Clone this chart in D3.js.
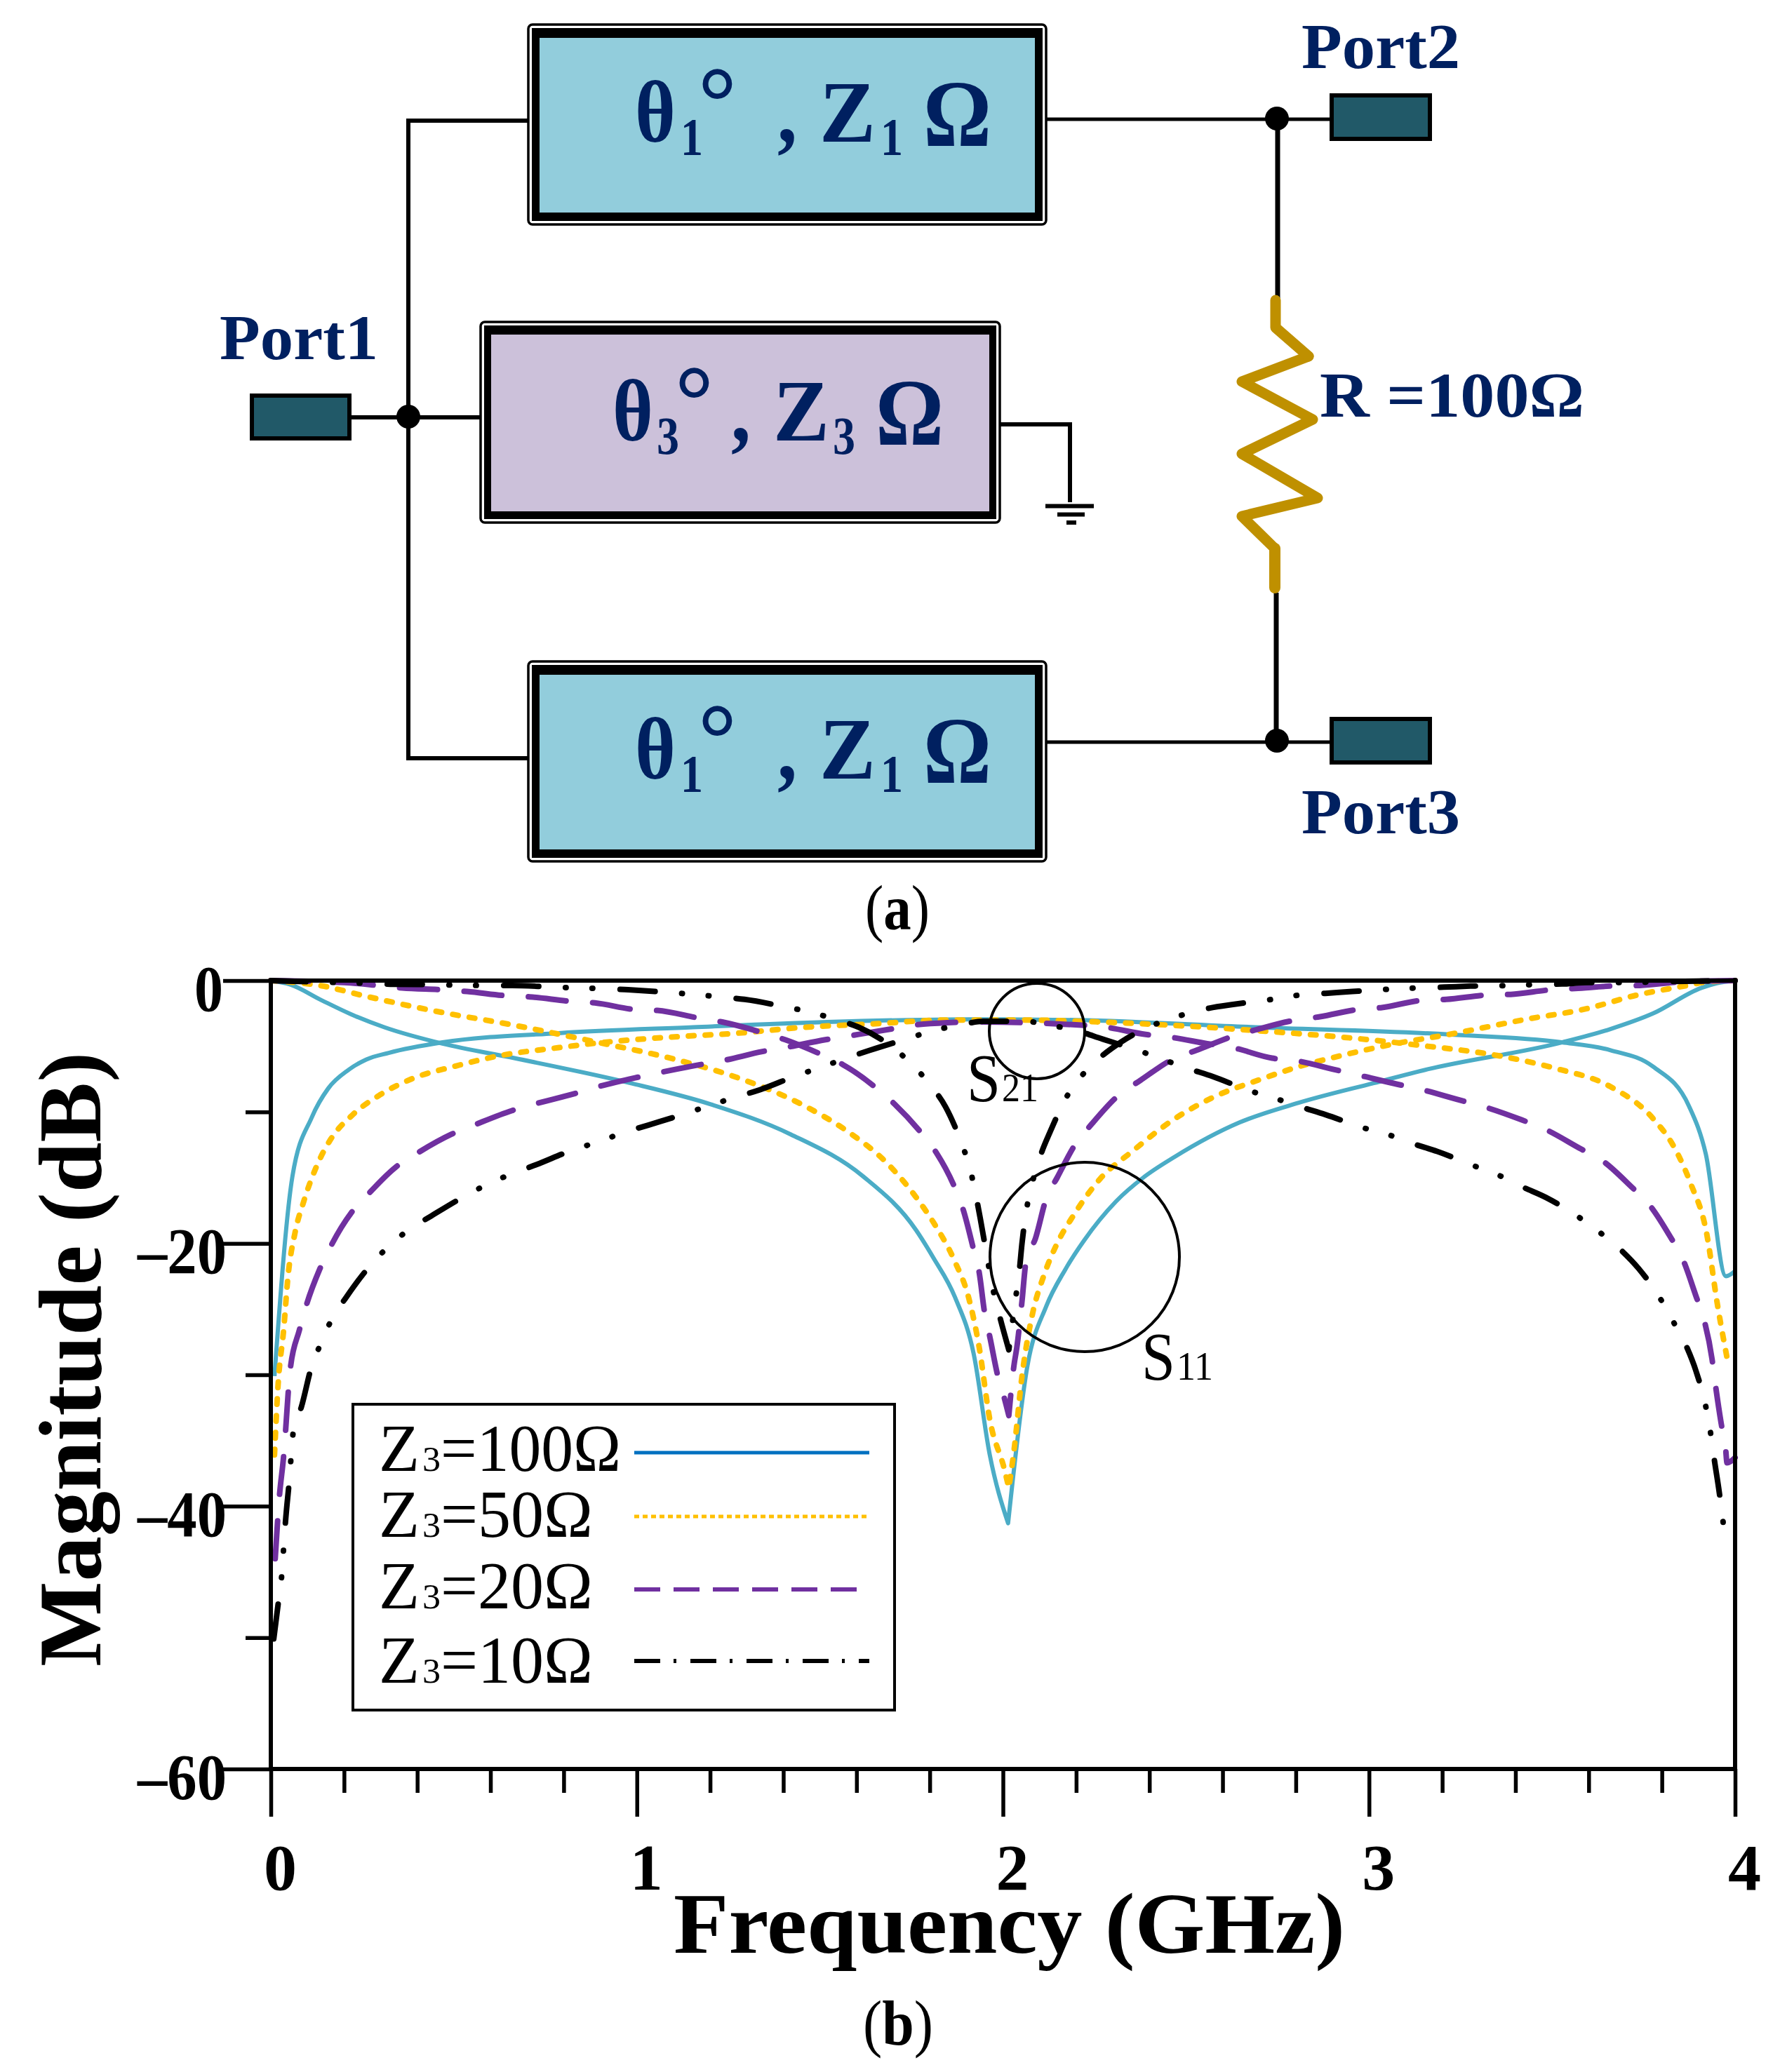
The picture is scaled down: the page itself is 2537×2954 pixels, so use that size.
<!DOCTYPE html>
<html><head><meta charset="utf-8">
<script src="https://cdn.jsdelivr.net/npm/d3@7"></script>
<style>html,body{margin:0;background:#fff}svg{display:block}</style></head>
<body><svg id="c" width="2537" height="2954"></svg>
<script>
// ---- data (frequency GHz, magnitude dB) ----
const s21Z100=[[0.01,-30.1],[0.059,-14.9],[0.112,-10.4],[0.157,-8.2],[0.212,-6.8],[0.261,-6],[0.322,-5.5],[0.469,-4.7],[0.787,-4],[1.153,-3.55],[1.52,-3.15],[1.848,-2.96],[2,-2.95],[2.2,-3],[2.69,-3.55],[3.218,-4.1],[3.527,-4.7],[3.66,-5.3],[3.776,-6.55],[3.874,-9.55],[3.92,-13.2],[3.975,-22.5],[4,-22.1]];
const s11Z100=[[0,0],[0.053,-0.3],[0.139,-1.5],[0.218,-2.55],[0.31,-3.55],[0.469,-4.8],[0.665,-5.9],[0.982,-7.8],[1.2,-9.4],[1.42,-11.7],[1.618,-14.9],[1.763,-19],[1.81,-21.1],[1.869,-24.1],[1.92,-28.4],[1.964,-36.1],[2.014,-41.3],[2.067,-29.3],[2.118,-24.8],[2.17,-22],[2.221,-19.8],[2.309,-16.8],[2.383,-15],[2.47,-13.4],[2.646,-10.8],[2.808,-9.3],[3.013,-7.8],[3.16,-6.75],[3.527,-4.7],[3.658,-3.7],[3.776,-2.5],[3.908,-0.55],[3.95,-0.2],[4,0]];
const s21Z50=[[0.01,-36.1],[0.02,-30.7],[0.035,-26.6],[0.047,-22.5],[0.066,-19.2],[0.09,-16.8],[0.127,-14],[0.163,-12.1],[0.224,-10.2],[0.298,-8.7],[0.383,-7.5],[0.505,-6.5],[0.628,-5.7],[0.787,-5.1],[0.909,-4.7],[1.092,-4.3],[1.276,-4],[1.459,-3.55],[1.642,-3.3],[1.848,-3],[2.05,-3],[2.265,-3.15],[2.69,-3.8],[3,-4.5],[3.13,-4.9],[3.35,-5.7],[3.512,-6.7],[3.658,-8.05],[3.776,-10.5],[3.834,-12.7],[3.878,-15.4],[3.922,-19.2],[3.952,-24.7],[3.98,-29]];
const s11Z50=[[0,0],[0.139,-0.4],[0.261,-1.2],[0.445,-2.3],[0.665,-3.4],[0.885,-4.65],[1.105,-6],[1.276,-7.4],[1.459,-9.55],[1.582,-11.6],[1.68,-13.8],[1.763,-16.5],[1.81,-18.4],[1.869,-21.4],[1.906,-24.1],[1.935,-27.9],[1.964,-33.4],[2.004,-37.2],[2.016,-38.6],[2.03,-35.8],[2.052,-30.1],[2.082,-25.2],[2.111,-22.5],[2.148,-20],[2.192,-17.9],[2.265,-15.1],[2.353,-13],[2.47,-10.5],[2.573,-8.9],[2.705,-7.5],[2.808,-6.55],[2.925,-5.7],[3.072,-4.8],[3.218,-4.1],[3.438,-2.9],[3.585,-2.2],[3.732,-1.1],[3.864,-0.4],[3.923,-0.1],[4,0]];
const s21Z20=[[0.012,-44],[0.023,-39.4],[0.035,-36.2],[0.053,-29.6],[0.078,-26.6],[0.096,-24.8],[0.133,-22],[0.164,-20.2],[0.219,-17.7],[0.261,-16.4],[0.341,-14.2],[0.402,-13.1],[0.493,-11.7],[0.555,-11],[0.658,-9.9],[0.72,-9.4],[0.83,-8.6],[0.891,-8.1],[0.995,-7.4],[1.062,-7],[1.172,-6.4],[1.233,-6.1],[1.343,-5.4],[1.405,-5.1],[1.515,-4.5],[1.582,-4.2],[1.692,-3.7],[1.754,-3.4],[1.848,-3.2],[1.928,-3.15],[2.19,-3.35],[2.28,-3.55],[2.39,-4.1],[2.456,-4.3],[2.558,-4.8],[2.627,-5.1],[2.735,-5.9],[2.8,-6.1],[2.91,-6.8],[2.972,-7.2],[3.079,-7.9],[3.145,-8.3],[3.248,-9.1],[3.314,-9.6],[3.417,-10.6],[3.48,-11.3],[3.578,-12.8],[3.637,-13.7],[3.717,-15.7],[3.764,-17],[3.823,-19.5],[3.857,-21.2],[3.893,-24],[3.915,-25.8],[3.937,-28.8],[3.945,-30.5],[3.962,-33.7],[3.974,-35.6],[3.978,-36.7],[4,-36.3]];
const s11Z20=[[0,0],[0.2,-0.15],[0.292,-0.37],[0.359,-0.56],[0.469,-0.7],[0.536,-0.83],[0.646,-1.16],[0.707,-1.24],[0.817,-1.57],[0.885,-1.7],[0.995,-2.2],[1.056,-2.27],[1.172,-2.87],[1.233,-3.15],[1.343,-3.96],[1.405,-4.5],[1.502,-5.6],[1.563,-6.4],[1.655,-8.2],[1.704,-9.4],[1.777,-11.6],[1.818,-13.1],[1.869,-15.8],[1.891,-17.4],[1.92,-20.5],[1.935,-22.2],[1.95,-25.3],[1.964,-27.1],[1.986,-30.1],[2.004,-31.8],[2.016,-33.1],[2.03,-29.3],[2.038,-27.9],[2.052,-24.4],[2.063,-21.4],[2.089,-19.6],[2.118,-16.6],[2.148,-15],[2.199,-12.4],[2.243,-10.9],[2.317,-8.7],[2.375,-7.6],[2.463,-6],[2.529,-5.3],[2.632,-4.2],[2.69,-3.75],[2.8,-3],[2.866,-2.75],[2.969,-2.2],[3.035,-2.05],[3.145,-1.5],[3.211,-1.43],[3.321,-1.1],[3.387,-1.05],[3.497,-0.7],[3.563,-0.6],[3.673,-0.4],[3.74,-0.37],[3.85,-0.1],[4,0]];
const s21Z10=[[0.008,-50.1],[0.022,-47],[0.03,-45.2],[0.035,-43.2],[0.04,-41.2],[0.05,-38.2],[0.062,-34.2],[0.084,-32.4],[0.111,-29.4],[0.137,-27.6],[0.166,-25.8],[0.206,-24.1],[0.271,-21.7],[0.319,-20.3],[0.375,-19],[0.439,-17.9],[0.53,-16.4],[0.592,-15.5],[0.659,-14.7],[0.726,-14],[0.824,-12.9],[0.891,-12.3],[0.961,-11.6],[1.031,-11],[1.135,-10.1],[1.199,-9.5],[1.267,-8.9],[1.337,-8.3],[1.439,-7.2],[1.503,-6.6],[1.572,-5.9],[1.637,-5.3],[1.741,-4.4],[1.81,-3.8],[1.88,-3.4],[1.947,-3.1],[2.06,-3.1],[2.129,-3.4],[2.2,-3.8],[2.272,-4.45],[2.368,-5.3],[2.437,-6],[2.507,-6.7],[2.573,-7.3],[2.676,-8.4],[2.742,-8.95],[2.812,-9.6],[2.881,-10.2],[2.984,-11.2],[3.05,-11.7],[3.119,-12.4],[3.186,-13],[3.287,-14.1],[3.353,-14.8],[3.419,-15.7],[3.483,-16.5],[3.578,-18.1],[3.632,-19.2],[3.688,-20.5],[3.736,-21.9],[3.8,-24.4],[3.834,-26.1],[3.868,-27.9],[3.893,-29.7],[3.922,-32.7],[3.934,-34.6],[3.944,-36.6],[3.955,-38.6],[3.969,-41.6]];
const s11Z10=[[0,0],[0.185,-0.15],[0.259,-0.2],[0.335,-0.28],[0.439,-0.3],[0.508,-0.34],[0.581,-0.37],[0.659,-0.37],[0.763,-0.48],[0.832,-0.56],[0.905,-0.6],[0.976,-0.7],[1.086,-0.9],[1.153,-1.05],[1.227,-1.24],[1.294,-1.43],[1.405,-2],[1.474,-2.4],[1.543,-2.96],[1.606,-3.55],[1.704,-5.2],[1.756,-6.5],[1.803,-8],[1.843,-9.6],[1.887,-12.4],[1.909,-14.2],[1.925,-16.2],[1.938,-18.1],[1.957,-21.1],[1.969,-23],[1.986,-25],[2.016,-28.1],[2.026,-26],[2.035,-24.1],[2.045,-22],[2.052,-20],[2.067,-17],[2.082,-15.2],[2.104,-13.2],[2.129,-11.5],[2.177,-8.7],[2.218,-7.15],[2.272,-5.7],[2.324,-4.65],[2.427,-3.2],[2.492,-2.6],[2.563,-2.1],[2.632,-1.8],[2.742,-1.4],[2.811,-1.1],[2.881,-0.97],[2.954,-0.83],[3.064,-0.64],[3.13,-0.56],[3.204,-0.5],[3.277,-0.42],[3.387,-0.37],[3.453,-0.3],[3.527,-0.26],[3.6,-0.15],[3.71,-0.15],[3.776,-0.1],[4,0]];
const xMajorTicks=[0,1,2,3,4];
const xMinorTicks=[0.2,0.4,0.6,0.8,1.2,1.4,1.6,1.8,2.2,2.4,2.6,2.8,3.2,3.4,3.6,3.8];
const yMajorTicks=[0,-20,-40,-60];
const yMinorTicks=[-10,-30,-50];
const legendValues=["100","50","20","10"];

// ---- layout ----
const svg=d3.select("#c");
const L=386,R=2473,T=1398,B=2522;
const x=d3.scaleLinear().domain([0,4]).range([L,R]);
const y=d3.scaleLinear().domain([0,-60]).range([T,B]);
const SERIF='"Liberation Serif","DejaVu Serif",serif';
const NAVY="#002060";
function txt(s,px,py,size,o={}){
  const t=svg.append("text").attr("x",px).attr("y",py).attr("font-family",SERIF).attr("font-size",size)
    .attr("font-weight",o.bold?"bold":"normal").attr("fill",o.fill||"#000").text(s);
  if(o.len){t.attr("textLength",o.len).attr("lengthAdjust","spacingAndGlyphs");}
  if(o.anchor)t.attr("text-anchor",o.anchor);
  if(o.rot)t.attr("transform",`rotate(${o.rot} ${px} ${py})`);
  return t;
}
function path(pts,stroke,w,o={}){
  return svg.append("path").attr("d",d3.line()(pts)).attr("fill",o.fill||"none").attr("stroke",stroke)
    .attr("stroke-width",w).attr("stroke-linejoin",o.join||"miter").attr("stroke-linecap",o.cap||"butt");
}
// ---- circuit ----
function box(xo,yo,w,h,bw,fill){
  svg.append("rect").attr("x",xo).attr("y",yo).attr("width",w).attr("height",h).attr("rx",6)
    .attr("fill","#fff").attr("stroke","#000").attr("stroke-width",3.5);
  svg.append("rect").attr("x",xo+5).attr("y",yo+5).attr("width",w-10).attr("height",h-10).attr("fill","#000");
  svg.append("rect").attr("x",xo+5+bw).attr("y",yo+5+bw+3).attr("width",w-10-2*bw).attr("height",h-10-2*bw-4).attr("fill",fill);
}
function port(x0,y0,x1,y1){
  svg.append("rect").attr("x",x0+3).attr("y",y0+3).attr("width",x1-x0-6).attr("height",y1-y0-6)
   .attr("fill","#215968").attr("stroke","#000").attr("stroke-width",6);
}
path([[755,172],[582,172],[582,1081],[755,1081]],"#000",6);
path([[500,595],[690,595]],"#000",6);
path([[1488,170],[1895,170]],"#000",5);
path([[1488,1058],[1895,1058]],"#000",5);
path([[1821,170],[1821,425]],"#000",7);
path([[1819,845],[1819,1058]],"#000",7);
path([[1422,605],[1525,605],[1525,716]],"#000",6);
path([[1490,721.5],[1559,721.5]],"#000",6);
path([[1507,733.5],[1546,733.5]],"#000",6);
path([[1520,745],[1534,745]],"#000",6);
[[582,594],[1820,169],[1820,1056]].forEach(p=>svg.append("circle").attr("cx",p[0]).attr("cy",p[1]).attr("r",17).attr("fill","#000"));
box(753,35,738,285,11,"#92cddc");
box(685,459,740,286,10,"#ccc1da");
box(753,943,738,285,11,"#92cddc");
port(356,561,501,628);
port(1895,133,2041,201);
port(1895,1022,2041,1090);
path([[1865,508],[1770,544],[1871,598],[1770,647],[1878,710],[1770,736],[1817,782]],"#bf9000",15,{join:"round",cap:"round"});
path([[1818,428],[1818,467],[1865,508]],"#bf9000",15,{join:"round",cap:"round"});
path([[1817,782],[1817,838]],"#bf9000",16,{cap:"round"});
function boxLabel(dy,sub,thetaX,subX,degX,commaX,zX,subZX,omX){
  const base=201.5+dy;
  txt("θ",thetaX,base,124,{bold:true,fill:NAVY,len:58});
  txt(sub,subX,base+19,77,{bold:true,fill:NAVY,len:32});
  txt("°",degX,base-10,140,{bold:true,fill:NAVY,len:55});
  txt(",",commaX,base,124,{bold:true,fill:NAVY,len:28});
  txt("Z",zX,base,124,{bold:true,fill:NAVY,len:80});
  txt(sub,subZX,base+19,77,{bold:true,fill:NAVY,len:32});
  txt("Ω",omX,base+6,135,{bold:true,fill:NAVY,len:97});
}
boxLabel(0,"1",905,970,995,1108,1168,1255,1316);
boxLabel(426,"3",873,936,962,1042,1102,1187,1248);
boxLabel(908,"1",905,970,995,1108,1168,1255,1316);
txt("Port1",313,512,92,{bold:true,fill:NAVY,len:226});
txt("Port2",1855,97,92,{bold:true,fill:NAVY,len:226});
txt("Port3",1855,1188,92,{bold:true,fill:NAVY,len:226});
txt("R =100Ω",1881,594,90,{bold:true,fill:NAVY,len:377});
const capA=txt("",1233,1325,90,{len:92});
capA.append("tspan").text("(");capA.append("tspan").attr("font-weight","bold").text("a");capA.append("tspan").text(")");

// ---- chart ----
const line=d3.line().x(d=>x(d[0])).y(d=>y(d[1])).curve(d3.curveMonotoneX);
// a notch keeps its sharp tip: the curve is smoothed on each side of the minimum, one continuous path
function curvePath(data,notch){
  if(!notch) return line(data);
  const i=d3.minIndex(data,d=>d[1]);
  return line(data.slice(0,i+1))+line(data.slice(i)).replace(/^M[^C]*/,"");
}
const styles={
 teal:{c:"#4bacc6",w:6,d:null,cap:"butt"},
 orange:{c:"#ffc000",w:8,d:"8 16",cap:"round"},
 purple:{c:"#7030a0",w:8,d:"54 38",cap:"round"},
 black:{c:"#000",w:8,d:"50 38 1 37 1 39",cap:"round"}
};
[[s21Z100,"teal",0],[s11Z100,"teal",1],[s21Z50,"orange",0],[s11Z50,"orange",1],[s21Z20,"purple",0],[s11Z20,"purple",1],[s21Z10,"black",0],[s11Z10,"black",1]].forEach(([data,k,notch])=>{
  const s=styles[k];
  svg.append("path").attr("d",curvePath(data,notch)).attr("fill","none").attr("stroke",s.c).attr("stroke-width",s.w)
    .attr("stroke-dasharray",s.d).attr("stroke-linecap",s.cap).attr("stroke-linejoin","round");
});
// annotations
svg.append("circle").attr("cx",1478).attr("cy",1470).attr("r",68).attr("fill","none").attr("stroke","#000").attr("stroke-width",4);
svg.append("circle").attr("cx",1546).attr("cy",1792).attr("r",135).attr("fill","none").attr("stroke","#000").attr("stroke-width",4);
txt("S",1378,1570,98,{len:48});txt("21",1428,1570,56,{len:52});
txt("S",1627,1967,98,{len:48});txt("11",1677,1967,56,{len:52});
// frame and axes
svg.append("rect").attr("x",L).attr("y",T).attr("width",R-L).attr("height",B-T).attr("fill","none").attr("stroke","#000").attr("stroke-width",6);
const gx=svg.append("g").attr("transform",`translate(0,${B})`);
const gy=svg.append("g").attr("transform",`translate(${L},0)`);
gx.append("g").call(d3.axisBottom(x).tickValues(xMinorTicks).tickSize(34).tickFormat(""));
gx.append("g").call(d3.axisBottom(x).tickValues(xMajorTicks).tickSize(68).tickFormat(d3.format("d")));
gy.append("g").call(d3.axisLeft(y).tickValues(yMinorTicks).tickSize(36).tickFormat(""));
gy.append("g").call(d3.axisLeft(y).tickValues(yMajorTicks).tickSize(68).tickFormat(d=>d===0?"0":"–"+Math.abs(d)));
svg.selectAll("g .domain").remove();
svg.selectAll("g .tick line").attr("stroke","#000").attr("stroke-width",5.5);
gx.selectAll("text").attr("font-family",SERIF).attr("font-weight","bold").attr("font-size",94).attr("fill","#000").attr("dy",0).attr("y",172).attr("x",13).attr("text-anchor","middle");
gy.selectAll("text").attr("font-family",SERIF).attr("font-weight","bold").attr("font-size",94).attr("fill","#000").attr("dy",0).attr("y",42).attr("text-anchor","start").attr("lengthAdjust","spacingAndGlyphs")
  .each(function(d){const t=d3.select(this); if(d===0){t.attr("x",-109).attr("textLength",41);} else {t.attr("x",-190).attr("textLength",127);}});
txt("Frequency (GHz)",960,2784,122,{bold:true,len:957});
txt("Magnitude (dB)",143,2376,126,{bold:true,len:876,rot:-90});
const capB=txt("",1230,2915,90,{len:100});
capB.append("tspan").text("(");capB.append("tspan").attr("font-weight","bold").text("b");capB.append("tspan").text(")");
// legend
svg.append("rect").attr("x",503).attr("y",2002).attr("width",772).attr("height",436).attr("fill","none").attr("stroke","#000").attr("stroke-width",4);
const legY=[2071,2162,2266,2368],legBase=[2097,2191,2293,2399];
const legLen=[257,217,217,217],legEnd=[1239,1239,1225,1239];
const legStyle=[{c:"#0070c0",w:5,d:null},{c:"#ffc000",w:5,d:"7 5"},{c:"#7030a0",w:6,d:"37 19"},{c:"#000",w:6,d:"37 19 4 20"}];
legendValues.forEach((v,i)=>{
  txt("Z",540,legBase[i],96,{len:58});
  txt("3",602,legBase[i],50,{len:26});
  txt("="+v+"Ω",628,legBase[i],96,{len:legLen[i]});
  const s=legStyle[i];
  svg.append("line").attr("x1",904).attr("x2",legEnd[i]).attr("y1",legY[i]).attr("y2",legY[i]).attr("stroke",s.c).attr("stroke-width",s.w).attr("stroke-dasharray",s.d);
});
</script></body></html>
